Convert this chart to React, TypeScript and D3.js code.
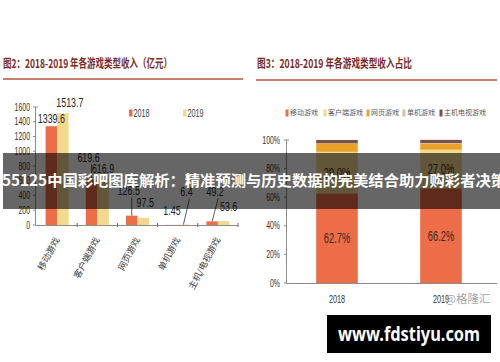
import React from 'react';
import * as d3 from 'd3';

// left chart: revenue by game type (亿元)
const categories = ['移动游戏', '客户端游戏', '网页游戏', '单机游戏', '主机/电视游戏'];
const years = ['2018', '2019'];
const revenue2018 = [1339.6, 619.6, 126.5, 1.45, 49.2];
const revenue2019 = [1513.7, 616.9, 97.5, 6.4, 53.6];
const revenueTicks = [0, 200, 400, 600, 800, 1000, 1200, 1400, 1600];

// right chart: share by game type (%)
const shareSeries = ['移动游戏', '客户端游戏', '网页游戏', '单机游戏', '主机电视游戏'];
const share2018 = [62.7, 29.0, 5.9, 0.1, 2.3];
const share2019 = [66.2, 27.0, 4.3, 0.3, 2.3];
const shareTicks = [0, 20, 40, 60, 80, 100];

const title2 = '图2：2018-2019 年各游戏类型收入（亿元）';
const title3 = '图3：2018-2019 年各游戏类型收入占比';
const bannerText = '55125中国彩吧图库解析：精准预测与历史数据的完美结合助力购彩者决策';
const siteText = 'www.fdstiyu.com';
const sourceText = '@格隆汇';

const yearColors = ['#EC6D47', '#F2D98C'];
const shareColors = ['#EC6D47', '#F2D98C', '#E9A12B', '#D3C3A0', '#7D5246'];

// label nudges (dx, dy above bar top, leader line or not)
const nudge2018 = [
  { dx: 0, dy: -8, lead: false },
  { dx: -3, dy: -22, lead: true },
  { dx: -3, dy: -25, lead: true },
  { dx: 0, dy: -15, lead: false },
  { dx: 3, dy: -30, lead: true },
];
const nudge2019 = [
  { dx: 7, dy: -11, lead: false },
  { dx: 0, dy: -11, lead: false },
  { dx: 2, dy: -16, lead: false },
  { dx: 3, dy: -33, lead: true },
  { dx: 5, dy: -15, lead: false },
];

const CJK = '"Noto Sans CJK SC", sans-serif';
const SANS = '"Liberation Sans", Arial, sans-serif';

// condensed text, like the narrow font in the source picture
function NText({ x, y, size, anchor = 'start', sx = 0.66, fill = '#333', children }: any) {
  return (
    <g transform={`translate(${x},${y}) scale(${sx},1)`}>
      <text dy="0.35em" textAnchor={anchor} fontFamily={SANS} fontSize={size} fill={fill}>{children}</text>
    </g>
  );
}

export default function App() {
  const yL = d3.scaleLinear().domain([0, 1600]).range([225, 107]);
  const xL = d3.scaleBand().domain(categories).range([37, 238]);
  const xIn = d3.scaleBand().domain(years).range([0, 23]);
  const series = [revenue2018, revenue2019];
  const nudges = [nudge2018, nudge2019];

  const yR = d3.scaleLinear().domain([0, 100]).range([283, 140]);
  const xR = d3.scaleBand().domain(years).range([285, 493]).paddingInner(0.6).paddingOuter(0.3);
  const rows = years.map((y, i) => {
    const src = i === 0 ? share2018 : share2019;
    const r: any = { year: y };
    shareSeries.forEach((s, j) => (r[s] = src[j]));
    return r;
  });
  const stacked = d3.stack().keys(shareSeries)(rows);

  const legendR = [287, 325, 368, 404, 441];

  return (
    <svg width={500} height={362} style={{ position: 'absolute', left: 0, top: 0, background: '#fff' }}>
      <rect width={500} height={362} fill="#fff" />

      {/* titles */}
      <text x={3} y={68} fontFamily={CJK} fontWeight="bold" fontSize={12} fill="#7A2C28"
        textLength={169} lengthAdjust="spacingAndGlyphs">{title2}</text>
      <line x1={3} x2={243} y1={79} y2={79} stroke="#B9533D" strokeWidth={1.6} />
      <text x={257} y={68} fontFamily={CJK} fontWeight="bold" fontSize={12} fill="#7A2C28"
        textLength={155} lengthAdjust="spacingAndGlyphs">{title3}</text>
      <line x1={256} x2={497} y1={80} y2={80} stroke="#B9533D" strokeWidth={1.6} />

      {/* left legend */}
      {years.map((y, i) => (
        <g key={y}>
          <rect x={i === 0 ? 129 : 183} y={109.5} width={3.5} height={7} fill={yearColors[i]} />
          <NText x={(i === 0 ? 129 : 183) + 4.5} y={113} size={11} fill="#404040">{y}</NText>
        </g>
      ))}

      {/* left axes */}
      <line x1={35.5} x2={35.5} y1={yL(1600)} y2={yL(0)} stroke="#8C8C8C" />
      <line x1={35.5} x2={38} y1={yL(1600)} y2={yL(1600)} stroke="#8C8C8C" />
      {revenueTicks.map(t => (
        <g key={t}>
          <line x1={33} x2={35.5} y1={yL(t)} y2={yL(t)} stroke="#8C8C8C" />
          <NText x={30} y={yL(t)} size={10.5} anchor="end">{t}</NText>
        </g>
      ))}
      <line x1={35.5} x2={238} y1={225.5} y2={225.5} stroke="#8C8C8C" />
      {categories.map(c => (
        <line key={c} x1={(xL(c) as number) + xL.bandwidth()} x2={(xL(c) as number) + xL.bandwidth()}
          y1={223} y2={227} stroke="#666" />
      ))}

      {/* left bars */}
      {categories.map((c, ci) => (
        <g key={c} transform={`translate(${(xL(c) as number) + xL.bandwidth() / 2 - 11.5},0)`}>
          {years.map((y, yi) => (
            <rect key={y} x={xIn(y)} width={xIn.bandwidth()} y={yL(series[yi][ci])}
              height={yL(0) - yL(series[yi][ci])} fill={yearColors[yi]} />
          ))}
        </g>
      ))}

      {/* left value labels */}
      {categories.map((c, ci) =>
        years.map((y, yi) => {
          const cx = (xL(c) as number) + xL.bandwidth() / 2 - 11.5 + (xIn(y) as number) + xIn.bandwidth() / 2;
          const top = yL(series[yi][ci]);
          const n = nudges[yi][ci];
          return (
            <g key={c + y}>
              {n.lead && (
                <line x1={cx + n.dx + 3} y1={top + n.dy + 7} x2={cx} y2={top} stroke="#333" strokeWidth={0.8} />
              )}
              <NText x={cx + n.dx} y={top + n.dy} size={13.5} anchor="middle" fill="#262626">{series[yi][ci]}</NText>
            </g>
          );
        })
      )}

      {/* left category labels */}
      {categories.map(c => {
        const cx = (xL(c) as number) + xL.bandwidth() / 2;
        return (
          <text key={c} transform={`translate(${cx},238) rotate(-62)`} dy="0.35em" textAnchor="end"
            fontFamily={CJK} fontSize={9} fill="#404040">{c}</text>
        );
      })}

      {/* right legend */}
      {shareSeries.map((s, i) => (
        <g key={s} transform={`translate(${legendR[i]},113)`}>
          <rect x={-1.5} y={-3.5} width={3} height={7} fill={shareColors[i]} />
          <text x={3} y={0} dy="0.35em" fontFamily={CJK} fontSize={7} fill="#595959">{s}</text>
        </g>
      ))}

      {/* right axes */}
      <line x1={286.5} x2={286.5} y1={yR(100)} y2={yR(0)} stroke="#8C8C8C" />
      <line x1={286.5} x2={289} y1={yR(100)} y2={yR(100)} stroke="#8C8C8C" />
      {shareTicks.map(t => (
        <g key={t}>
          <line x1={284} x2={286.5} y1={yR(t)} y2={yR(t)} stroke="#8C8C8C" />
          <NText x={280} y={yR(t)} size={10.5} anchor="end">{t}%</NText>
        </g>
      ))}
      <line x1={286.5} x2={497} y1={283.5} y2={283.5} stroke="#8C8C8C" />
      {years.map(y => (
        <NText key={y} x={(xR(y) as number) + xR.bandwidth() / 2} y={299} size={11} anchor="middle" fill="#333">
          {y}
        </NText>
      ))}

      {/* right stacked bars */}
      {stacked.map((layer, li) => (
        <g key={layer.key} fill={shareColors[li]}>
          {layer.map((d: any) => (
            <rect key={d.data.year} x={xR(d.data.year)} width={xR.bandwidth()} y={yR(d[1])} height={yR(d[0]) - yR(d[1])} />
          ))}
        </g>
      ))}
      {stacked.slice(0, 2).map(layer =>
        layer.map((d: any) => (
          <NText key={layer.key + d.data.year} x={(xR(d.data.year) as number) + xR.bandwidth() / 2}
            y={yR((d[0] + d[1]) / 2)} size={15} sx={0.62} anchor="middle" fill="#3A2A22">
            {d.data[layer.key].toFixed(1)}%
          </NText>
        ))
      )}

      <text x={445} y={299} dy="0.35em" fontFamily={CJK} fontSize={11.5} fill="#A6A6A6">{sourceText}</text>

      {/* overlay banner */}
      <rect x={3} y={153} width={497} height={56} fill="#000" fillOpacity={0.6} />
      <text x={2} y={186} fontFamily={CJK} fontWeight="bold" fontSize={15.3} fill="#fff">{bannerText}</text>

      <rect x={327} y={315} width={164} height={38} fill="#000" />
      <text x={409} y={334} dy="0.35em" textAnchor="middle" fontFamily='"Noto Sans", sans-serif' fontWeight="bold"
        fontSize={19} fill="#fff" textLength={142} lengthAdjust="spacingAndGlyphs">{siteText}</text>
    </svg>
  );
}
